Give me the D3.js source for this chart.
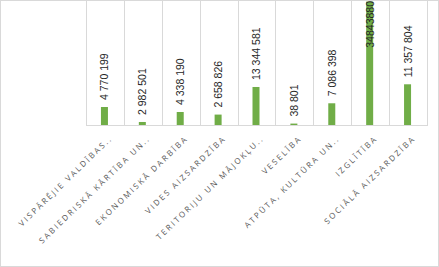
<!DOCTYPE html>
<html>
<head>
<meta charset="utf-8">
<script src="https://cdn.jsdelivr.net/npm/d3@7"></script>
<style>
  body { margin: 0; background: #fff; }
  svg { display: block; }
</style>
</head>
<body>
<script>
var width = 439,
    height = 267;

// categories as shown on the axis
var categories = ["VISPĀRĒJIE VALDĪBAS..", "SABIEDRISKĀ KĀRTĪBA UN..", "EKONOMISKĀ DARBĪBA",
    "VIDES AIZSARDZĪBA", "TERITORIJU UN MĀJOKĻU..", "VESELĪBA",
    "ATPŪTA, KULTŪRA UN..", "IZGLĪTĪBA", "SOCIĀLĀ AIZSARDZĪBA"];
// bar heights as drawn (millions)
var barValues = [5.08, 0.85, 3.67, 2.94, 10.73, 0.40, 6.13, 34.84, 11.49];
// data labels shown above bars
var labelTexts = ["4 770 199", "2 982 501", "4 338 190", "2 658 826", "13 344 581",
    "38 801", "7 086 398", "34843880", "11 357 804"];
var yMax = 35;

var svg = d3.select("body").append("svg")
    .attr("width", width)
    .attr("height", height);

svg.append("rect")
    .attr("x", 0.5).attr("y", 0.5)
    .attr("width", width - 1).attr("height", height - 1)
    .attr("fill", "#fff")
    .attr("stroke", "#d9d9d9");

var plotL = 86, plotR = 427, plotT = 1, plotB = 125;

var x = d3.scaleBand().domain(categories).range([plotL, plotR]).padding(0);
var y = d3.scaleLinear().domain([0, yMax]).range([plotB, plotT]);

// vertical separators between categories
var seps = categories.map(function(c) { return x(c); }).concat([plotR]);
svg.append("g").selectAll("line").data(seps).enter().append("line")
    .attr("x1", function(d) { return Math.round(d) + 0.5; })
    .attr("x2", function(d) { return Math.round(d) + 0.5; })
    .attr("y1", plotT).attr("y2", plotB)
    .attr("stroke", "#d9d9d9");

svg.append("line")
    .attr("x1", plotL).attr("x2", plotR + 1)
    .attr("y1", plotB + 0.5).attr("y2", plotB + 0.5)
    .attr("stroke", "#d9d9d9");

var bw = 7;
svg.append("g").selectAll("rect").data(barValues).enter().append("rect")
    .attr("x", function(d, i) { return x(categories[i]) + x.bandwidth() / 2 - bw / 2 - 0.5; })
    .attr("y", function(d) { return y(d); })
    .attr("width", bw)
    .attr("height", function(d) { return plotB - y(d); })
    .attr("fill", "#70ad47");

// data labels, rotated; the tallest one sits inside the bar
function inside(i) { return y(barValues[i]) - 7 < 55; }
svg.append("g").selectAll("text").data(labelTexts).enter().append("text")
    .attr("text-anchor", function(d, i) { return inside(i) ? "end" : "start"; })
    .attr("transform", function(d, i) {
        var cx = x(categories[i]) + x.bandwidth() / 2 + 3.5;
        if (inside(i)) return "translate(" + cx + ",1) rotate(-90)";
        return "translate(" + cx + "," + (y(barValues[i]) - 7) + ") rotate(-90)";
    })
    .attr("font-family", "Liberation Sans, Arial, sans-serif")
    .attr("font-size", "10.5px")
    .attr("fill", "#262626")
    .text(function(d) { return d; });

// category labels
svg.append("g").selectAll("text").data(categories).enter().append("text")
    .attr("transform", function(d) {
        return "translate(" + (x(d) + x.bandwidth() / 2 + 8) + "," + (plotB + 14) + ") rotate(-44)";
    })
    .attr("text-anchor", "end")
    .attr("font-family", "Open Sans, DejaVu Sans, sans-serif")
    .attr("font-size", "8px")
    .attr("letter-spacing", "2.1px")
    .attr("fill", "#595959")
    .text(function(d) { return d; });
</script>
</body>
</html>
